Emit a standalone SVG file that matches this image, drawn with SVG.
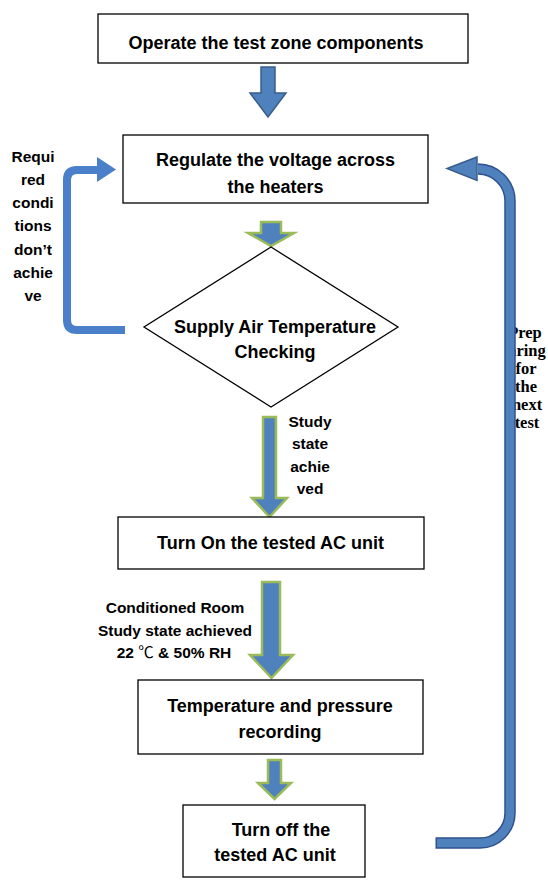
<svg xmlns="http://www.w3.org/2000/svg" width="548" height="880" viewBox="0 0 548 880">
<style>
.box{fill:#fff;stroke:#000;stroke-width:1.3}
.t{font-family:"Liberation Sans",Arial,sans-serif;font-weight:bold;font-size:18px;fill:#000;text-anchor:middle}
.l{font-family:"Liberation Sans",Arial,sans-serif;font-weight:bold;font-size:15.5px;fill:#000;text-anchor:middle}
.r{font-family:"Liberation Serif","Times New Roman",serif;font-weight:bold;font-size:16.5px;fill:#000;text-anchor:middle}
.ba{fill:#4f81bd;stroke:#385d8a;stroke-width:1.5;stroke-linejoin:miter}
.ga{fill:#4f81bd;stroke:#9bbb59;stroke-width:2.5;stroke-linejoin:miter}
</style>
<rect width="548" height="880" fill="#fff"/>

<g id="label-prep">
<text class="r" x="525" y="338">Prep</text>
<text class="r" x="527" y="356">aring</text>
<text class="r" x="526" y="374">for</text>
<text class="r" x="526" y="392">the</text>
<text class="r" x="527" y="410">next</text>
<text class="r" x="527" y="428">test</text>
</g>

<g id="connectors">
<polygon class="ba" points="261,67 275,67 275,93 286,93 268,117 250,93 261,93"/>
<polygon class="ga" points="261,222 281,222 281,233 294,233 271,246 248,233 261,233"/>
<polygon class="ga" points="263,417 276,417 276,498 287,498 269.5,517 252,498 263,498"/>
<polygon class="ga" points="262,582 280,582 280,655 293,655 271.5,678 250,655 262,655"/>
<polygon class="ga" points="268,760 281,760 281,783 291,783 274.5,799 258,783 268,783"/>
<path d="M125,330 H77 Q67,330 67,320 V180 Q67,170 77,170 H99" fill="none" stroke="#4a7fca" stroke-width="8"/>
<polygon points="97,157 116,169.5 97,182" fill="#4a7fca"/>
<path d="M435.5,843 H480 A30,30 0 0 0 510,813 V201 A32,32 0 0 0 478,169" fill="none" stroke="#2f528f" stroke-width="11.5"/>
<path d="M437,843 H480 A30,30 0 0 0 510,813 V201 A32,32 0 0 0 478,169" fill="none" stroke="#4f81bd" stroke-width="8.5"/>
<polygon class="ba" points="477,157 447,168.5 477,180.5" stroke="#2f528f"/>
</g>

<g id="label-required">
<text class="l" x="33" y="161.5">Requi</text>
<text class="l" x="33" y="184.5">red</text>
<text class="l" x="33" y="208">condi</text>
<text class="l" x="33" y="231">tions</text>
<text class="l" x="33" y="254.5">don’t</text>
<text class="l" x="33" y="278">achie</text>
<text class="l" x="33" y="301">ve</text>
</g>

<g id="label-study">
<text class="l" x="310" y="427">Study</text>
<text class="l" x="310" y="449">state</text>
<text class="l" x="310" y="471.5">achie</text>
<text class="l" x="310" y="494">ved</text>
</g>

<g id="label-conditioned">
<text class="l" x="175" y="613">Conditioned Room</text>
<text class="l" x="175" y="635.5">Study state achieved</text>
<text class="l" x="174" y="658">22 <tspan font-family="'Noto Sans CJK SC',sans-serif" font-weight="normal">℃</tspan> &amp; 50% RH</text>
</g>

<g id="node-operate">
<rect class="box" x="98" y="14" width="370" height="49"/>
<text class="t" x="276" y="49">Operate the test zone components</text>
</g>

<g id="node-regulate">
<rect class="box" x="123" y="135" width="305" height="68"/>
<text class="t" x="275.5" y="166">Regulate the voltage across</text>
<text class="t" x="275.5" y="192.5">the heaters</text>
</g>

<g id="node-check">
<polygon class="box" points="271,247 398,327 271,407 144,327"/>
<text class="t" x="275" y="333">Supply Air Temperature</text>
<text class="t" x="275" y="358">Checking</text>
</g>

<g id="node-turnon">
<rect class="box" x="118" y="517" width="306" height="52"/>
<text class="t" x="270.5" y="549">Turn On the tested AC unit</text>
</g>

<g id="node-record">
<rect class="box" x="138" y="680" width="285" height="74"/>
<text class="t" x="280" y="712">Temperature and pressure</text>
<text class="t" x="280" y="738">recording</text>
</g>

<g id="node-turnoff">
<rect class="box" x="183" y="805" width="182" height="72"/>
<text class="t" x="281" y="836">Turn off the</text>
<text class="t" x="275" y="861">tested AC unit</text>
</g>
</svg>
